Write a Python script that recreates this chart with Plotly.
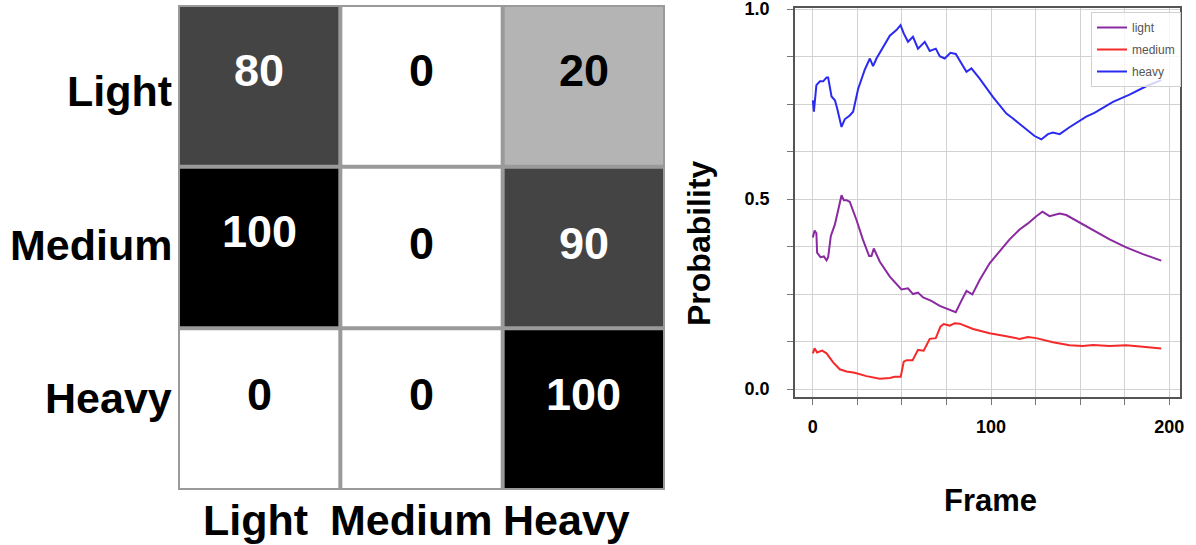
import plotly.graph_objects as go

# ---------------- data ----------------
classes = ["Light", "Medium", "Heavy"]
conf_matrix = [
    [80, 0, 20],
    [100, 0, 90],
    [0, 0, 100],
]

heavy_frames = [0, 0.6, 2, 4, 5.8, 7.7, 8.6, 10.5, 12.4, 13.6, 16.1, 17.9, 20.7, 22.6, 25.4, 29.1, 32, 33.8,
                35.7, 39.4, 43.2, 46.9, 49.2, 51, 53.4, 56.2, 59, 62.8, 65.6, 69, 71.2, 74, 77.2, 80.2, 86.2,
                89, 93.6, 101, 108.6, 112.3, 118.8, 124.4, 128.2, 131.9, 134.7, 138.5, 144, 153.4, 158,
                168.4, 177.7, 187, 195.5]
heavy_prob = [0.76, 0.73, 0.80, 0.81, 0.81, 0.82, 0.82, 0.77, 0.76, 0.74, 0.69, 0.71, 0.72, 0.73, 0.79, 0.84,
              0.87, 0.85, 0.87, 0.90, 0.93, 0.945, 0.958, 0.936, 0.914, 0.927, 0.896, 0.914, 0.89, 0.896, 0.876,
              0.87, 0.885, 0.882, 0.835, 0.844, 0.817, 0.769, 0.725, 0.712, 0.686, 0.666, 0.657, 0.671, 0.675,
              0.671, 0.689, 0.717, 0.727, 0.756, 0.775, 0.797, 0.813]

light_frames = [0, 1, 2, 2.4, 4.3, 6.2, 7.7, 8.6, 10.1, 12.3, 13.8, 16.1, 17.4, 18.9, 20.7, 24.5, 28.2, 31.6,
                32.9, 34.2, 37.6, 43.2, 49.7, 53.4, 56.2, 59, 61.9, 66.5, 71.2, 75.9, 80.2, 83.3, 86.2, 89.5,
                93.6, 99.2, 104.8, 110.4, 116, 120.7, 125.4, 128.8, 132.8, 138.5, 142.2, 149.7, 157.2, 166.5,
                175.8, 185.2, 195.5]
light_prob = [0.399, 0.417, 0.41, 0.359, 0.347, 0.349, 0.339, 0.347, 0.403, 0.432, 0.462, 0.51, 0.497, 0.497,
              0.493, 0.445, 0.392, 0.35, 0.35, 0.37, 0.335, 0.296, 0.262, 0.265, 0.25, 0.254, 0.241, 0.232,
              0.219, 0.21, 0.202, 0.232, 0.258, 0.249, 0.287, 0.331, 0.364, 0.394, 0.42, 0.436, 0.455, 0.467,
              0.455, 0.462, 0.458, 0.438, 0.417, 0.394, 0.373, 0.355, 0.338]

medium_frames = [0, 1, 2.4, 5.2, 7.7, 11.4, 15.1, 18.9, 23.5, 30.1, 37.6, 43.2, 46, 49.3, 51, 52.7, 56, 59,
                 62.2, 65.6, 69, 71.6, 73.4, 76.8, 79.6, 82.4, 89.9, 99.2, 108.6, 116, 120.7, 125.4, 134.7,
                 144, 151.5, 157.2, 166.5, 175.8, 185.2, 195.5]
medium_prob = [0.094, 0.107, 0.096, 0.101, 0.094, 0.07, 0.052, 0.046, 0.043, 0.034, 0.027, 0.029, 0.032, 0.032,
               0.072, 0.076, 0.076, 0.103, 0.101, 0.132, 0.134, 0.164, 0.171, 0.167, 0.173, 0.172, 0.158, 0.147,
               0.139, 0.132, 0.137, 0.134, 0.123, 0.115, 0.113, 0.116, 0.113, 0.115, 0.111, 0.107]

# ---------------- figure ----------------
W, H = 1196, 545
FONT = "Liberation Sans, Arial, sans-serif"

fig = go.Figure()

fig.add_trace(go.Heatmap(
    z=conf_matrix, x=classes, y=classes,
    colorscale=[[0, "#ffffff"], [0.2, "#b4b4b4"], [0.8, "#444444"], [0.9, "#444444"], [1, "#000000"]],
    zmin=0, zmax=100, showscale=False, xaxis="x", yaxis="y", hoverinfo="skip",
))

# cell value labels
shift_rows = {0: 15, 1: 4, 2: 15}
for i, row in enumerate(conf_matrix):
    for j, v in enumerate(row):
        ys = shift_rows[i]
        if i == 1 and j == 0:
            ys = 16
        fig.add_annotation(
            x=classes[j], y=classes[i], xref="x", yref="y", text=str(v), showarrow=False,
            yshift=ys,
            font=dict(family=FONT, size=45, weight="bold", color="white" if v >= 50 else "black"),
        )

# row labels (true class)
row_label_shift = [-5, 2, 11]
for i, name in enumerate(classes):
    fig.add_annotation(
        x=-0.5, y=name, xref="x", yref="y", text=name, showarrow=False,
        xanchor="right", yanchor="middle", xshift=-4, yshift=row_label_shift[i],
        font=dict(family=FONT, size=43, weight="bold", color="black"),
    )

# column labels (predicted class)
col_label_shift = [-4, -11, -17]
for j, name in enumerate(classes):
    fig.add_annotation(
        x=name, y=2.5, xref="x", yref="y", text=name, showarrow=False,
        xanchor="center", yanchor="top", xshift=col_label_shift[j], yshift=-4,
        font=dict(family=FONT, size=43, weight="bold", color="black"),
    )

# grid lines over the heatmap
for k in range(4):
    p = k - 0.5
    fig.add_shape(type="line", xref="x", yref="y", x0=p, x1=p, y0=-0.5, y1=2.5,
                  line=dict(color="#9a9a9a", width=4))
    fig.add_shape(type="line", xref="x", yref="y", x0=-0.5, x1=2.5, y0=p, y1=p,
                  line=dict(color="#9a9a9a", width=4))

line_specs = [
    ("light", light_frames, light_prob, "#8a2aa0"),
    ("medium", medium_frames, medium_prob, "#f42a2a"),
    ("heavy", heavy_frames, heavy_prob, "#2a2af0"),
]
for name, xs, ys, col in line_specs:
    fig.add_trace(go.Scatter(x=xs, y=ys, mode="lines", name=name, xaxis="x2", yaxis="y2",
                             legendgroup=name, line=dict(color=col, width=2)))

fig.update_layout(
    width=W, height=H,
    margin=dict(l=0, r=0, t=0, b=0, autoexpand=False),
    paper_bgcolor="white", plot_bgcolor="white",
    font=dict(family=FONT, color="black"),
    xaxis=dict(domain=[178 / W, 665 / W], anchor="y", showgrid=False, zeroline=False, automargin=False,
               showticklabels=False, ticks="", range=[-0.5, 2.5]),
    yaxis=dict(domain=[1 - 490 / H, 1 - 5 / H], anchor="x", showgrid=False, zeroline=False, automargin=False,
               showticklabels=False, ticks="", range=[2.5, -0.5]),
    xaxis2=dict(domain=[795 / W, 1180 / W], anchor="y2", range=[-10, 206], automargin=False,
                tickvals=[0, 100, 200], showgrid=True, gridcolor="#d2d2d2", gridwidth=1,
                zeroline=False, showline=True, mirror=True, linecolor="#555555", linewidth=1.5,
                ticks="outside", ticklen=6, tickcolor="#777777", ticklabelstandoff=7,
                ticklabeloverflow="allow",
                tickfont=dict(size=18, weight="bold", color="black"),
                minor=dict(dtick=25, tick0=0, showgrid=True, gridcolor="#d2d2d2", ticks="outside",
                           ticklen=6, tickcolor="#777777")),
    yaxis2=dict(domain=[1 - 397 / H, 1 - 8 / H], anchor="x2", range=[-0.021, 1.003], automargin=False,
                tickvals=[0, 0.5, 1.0], tickformat=".1f", showgrid=True, gridcolor="#d2d2d2",
                zeroline=False, showline=True, mirror=True, linecolor="#555555", linewidth=1.5,
                ticks="outside", ticklen=6, tickcolor="#777777", ticklabelstandoff=14,
                ticklabeloverflow="allow",
                tickfont=dict(size=18, weight="bold", color="black"),
                minor=dict(dtick=0.125, tick0=0, showgrid=True, gridcolor="#d2d2d2", ticks="outside",
                           ticklen=6, tickcolor="#777777")),
    legend=dict(x=1091 / W, y=1 - 12 / H, xanchor="left", yanchor="top", tracegroupgap=3,
                bgcolor="rgba(255,255,255,0.8)", bordercolor="#d0d0d0", borderwidth=1,
                font=dict(size=12, color="#555555", family=FONT)),
    showlegend=True,
)

fig.add_annotation(x=699 / W, y=1 - 243 / H, xref="paper", yref="paper", text="Probability",
                   textangle=-90, showarrow=False, xanchor="center", yanchor="middle",
                   font=dict(family=FONT, size=32, weight="bold", color="black"))
fig.add_annotation(x=990 / W, y=1 - 500 / H, xref="paper", yref="paper", text="Frame",
                   showarrow=False, xanchor="center", yanchor="middle",
                   font=dict(family=FONT, size=31, weight="bold", color="black"))

fig.write_html("out.html", config={"displayModeBar": False},
               post_script="document.body.style.margin='0';document.body.style.overflow='hidden';")
